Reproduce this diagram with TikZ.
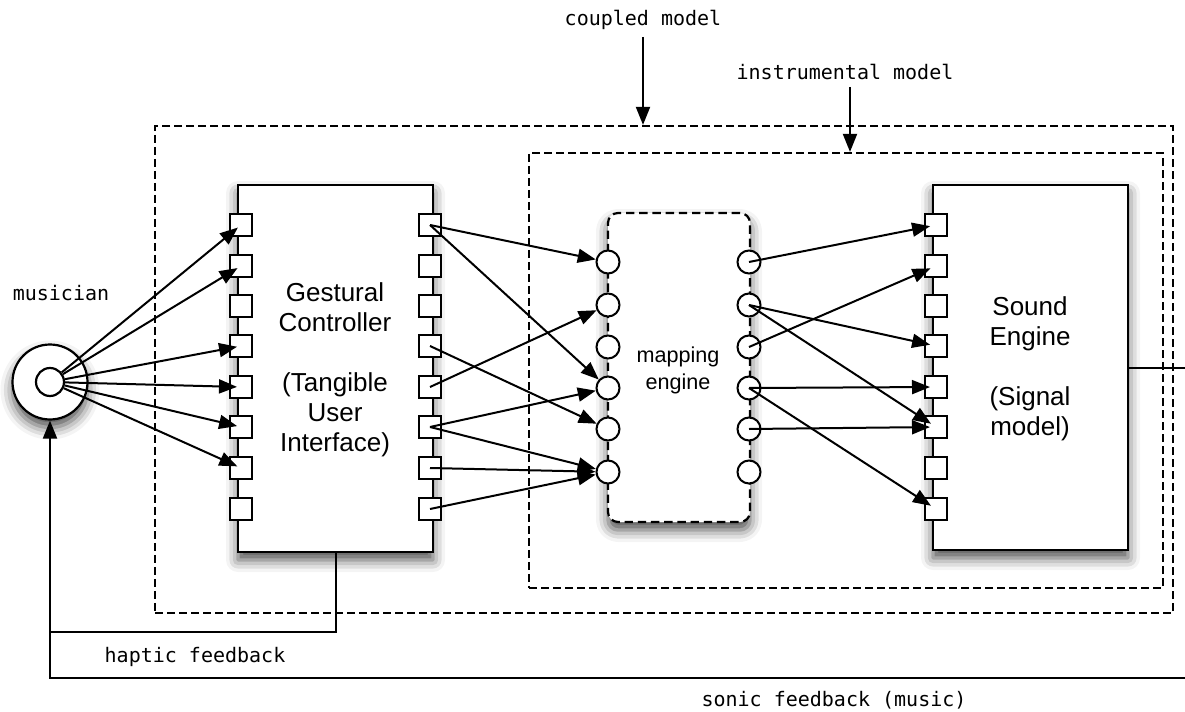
\documentclass[tikz,border=0pt]{standalone}
\usepackage{fontspec}
\setmainfont{Liberation Sans}
\setmonofont{DejaVu Sans Mono}
\usetikzlibrary{arrows.meta, positioning, shadows.blur}

\begin{document}
\begin{tikzpicture}[
    x=0.5pt, y=-0.5pt,
    soft/.style={blur shadow={shadow xshift=0pt, shadow yshift=-4pt, shadow blur radius=6pt, shadow opacity=70}},
    box/.style={rectangle, draw, line width=1.1pt, fill=white, minimum width=97.5pt, soft},
    mapbox/.style={rectangle, draw, dash pattern=on 4.2pt off 2.4pt, rounded corners=5pt,
        line width=1.1pt, fill=white, minimum width=71pt, minimum height=154.5pt, soft},
    model/.style={rectangle, draw, dash pattern=on 3.8pt off 2.2pt, line width=1.1pt, inner sep=0pt},
    socket/.style={rectangle, draw, fill=white, minimum size=11pt, inner sep=0pt, line width=1pt},
    jack/.style={circle, draw, fill=white, minimum size=11.5pt, inner sep=0pt, line width=1pt},
    title/.style={align=center, font=\fontsize{13}{15}\selectfont},
    mono/.style={font=\ttfamily\fontsize{10}{12}\selectfont},
    arrow/.style={-{Triangle[length=9pt,width=7pt]}, line width=1pt},
    line/.style={line width=1pt}
]
    \useasboundingbox (0,0) rectangle (1185,712);

    % the two nested model frames
    \node[model, minimum width=509pt, minimum height=243.5pt] (coupledbox) at (664,369.5) {};
    \node[model, minimum width=317pt, minimum height=217.5pt] (instrbox) at (846,370.5) {};

    \node[mono] (coupled) at (643,20) {coupled model};
    \node[mono] (instr) at (845,72) {instrumental model};
    \draw[arrow] (coupled.south) -- (coupled.south |- coupledbox.north);
    \draw[arrow] ([xshift=2.5pt]instr.south) -- ([xshift=2.5pt]instr.south |- instrbox.north);

    % musician
    \node[circle, draw, line width=1.1pt, fill=white, minimum size=37.5pt, soft] (musician) at (50,382) {};
    \node[circle, draw, line width=1.1pt, minimum size=14pt] (core) at (50,382) {};
    \node[mono] (who) at (61,293) {musician};

    % main blocks
    \node[box, minimum height=183.5pt] (gc) at (335.5,368.5) {};
    \node[title] (gctext) at (335,370) {Gestural\\Controller\\[15pt](Tangible\\User\\Interface)};
    \node[mapbox] (map) at (679,367.5) {};
    \node[align=center, font=\fontsize{10.8}{13.5}\selectfont] (maptext) at (678,370) {mapping\\engine};
    \node[box, minimum height=182.5pt] (se) at (1030.5,367.5) {};
    \node[title] (setext) at (1030,369) {Sound\\Engine\\[15pt](Signal\\model)};

    % ports
    \foreach \i/\y in {1/225,2/266,3/306,4/346,5/387,6/427,7/468,8/509} {
        \node[socket] (gl\i) at (241,\y) {};
        \node[socket] (gr\i) at (430,\y) {};
        \node[socket] (sp\i) at (936,\y) {};
    }
    \foreach \i/\y in {1/262,2/305,3/347,4/388,5/429,6/472} {
        \node[jack] (ml\i) at (608,\y) {};
        \node[jack] (mr\i) at (749,\y) {};
    }

    % gestures
    \foreach \i in {1,2,4,5,6,7}
        \draw[arrow, shorten >=2pt] (core) -- (gl\i.center);

    % controller to mapping
    \foreach \a/\b in {1/1,1/4,4/5,5/2,6/4,6/6,7/6,8/6}
        \draw[arrow] (gr\a.center) -- (ml\b);

    % mapping to sound engine
    \foreach \a/\b in {1/1,2/4,2/6,3/2,4/5,4/8,5/6}
        \draw[arrow, shorten >=3pt] (mr\a.center) -- (sp\b.center);

    % feedback loops
    \coordinate (haptic corner) at (50,632);
    \coordinate (sonic corner) at (1192,678);
    \draw[arrow] (se.east) -| (sonic corner) -| (musician.south);
    \draw[line] (gc.south) |- (haptic corner);
    \node[mono] (haptic) at (195,657) {haptic feedback};
    \node[mono] (sonic) at (834,700) {sonic feedback (music)};
\end{tikzpicture}
\end{document}
